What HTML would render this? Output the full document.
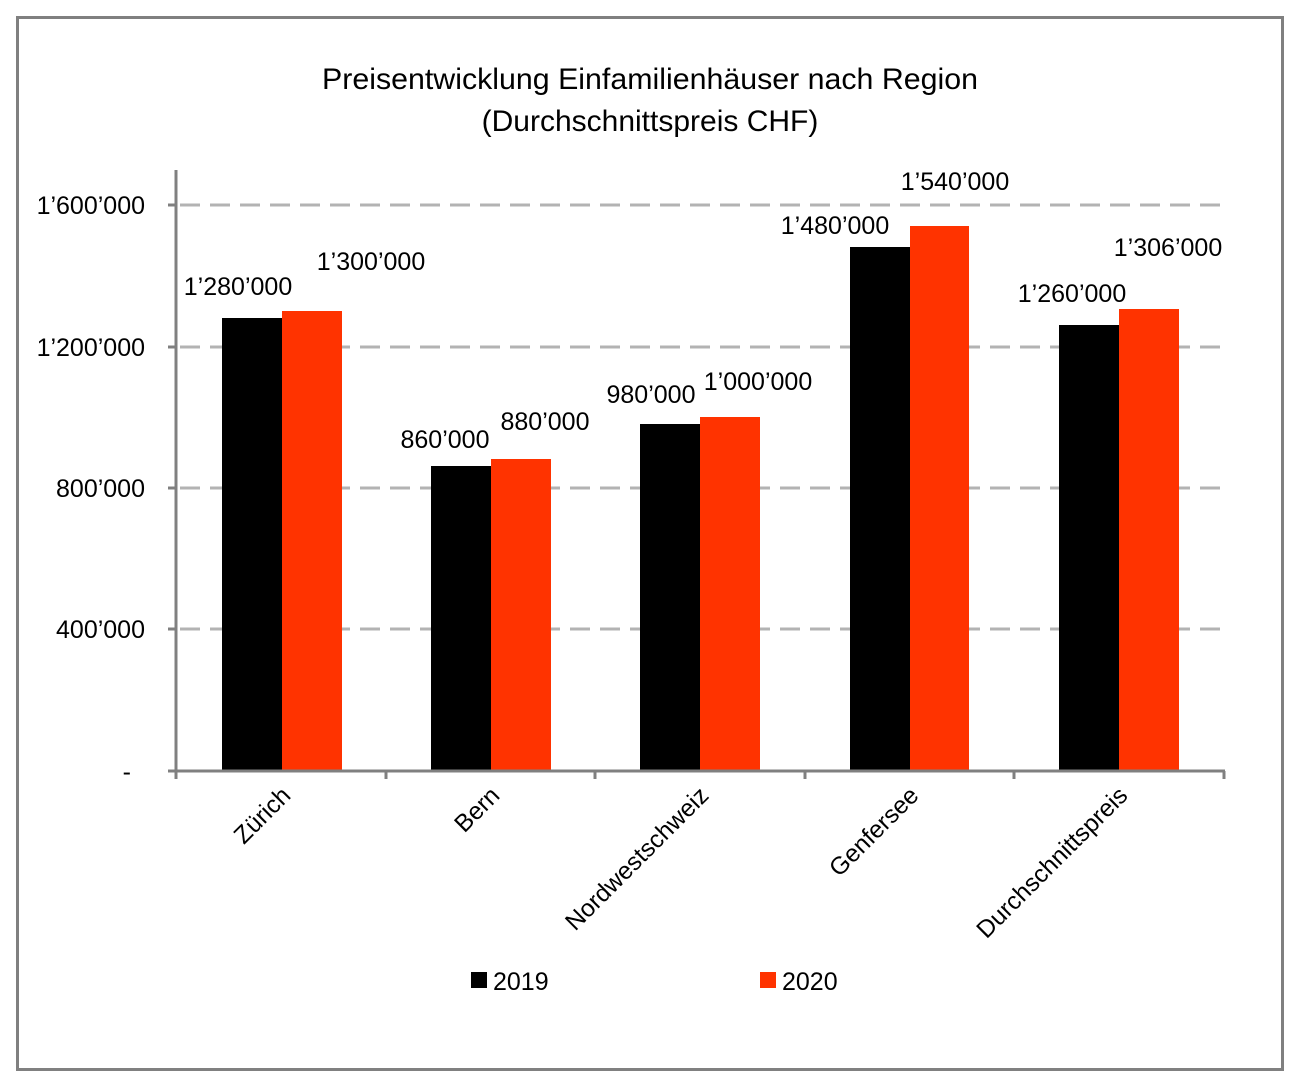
<!DOCTYPE html>
<html><head><meta charset="utf-8"><style>
html,body{margin:0;padding:0;background:#fff;}
svg{display:block;}
text{font-family:"Liberation Sans",sans-serif;fill:#000;}
</style></head><body>
<svg width="1294" height="1082" viewBox="0 0 1294 1082">
<rect x="17.5" y="17.5" width="1265" height="1052" fill="#fff" stroke="#808080" stroke-width="3"/>
<text x="650" y="89" font-size="30" text-anchor="middle" textLength="656" lengthAdjust="spacingAndGlyphs">Preisentwicklung Einfamilienhäuser nach Region</text>
<text x="650" y="131" font-size="30" text-anchor="middle">(Durchschnittspreis CHF)</text>
<g stroke="#b3b3b3" stroke-width="3" stroke-dasharray="20,10">
<line x1="180" y1="205" x2="1224" y2="205"/>
<line x1="180" y1="347" x2="1224" y2="347"/>
<line x1="180" y1="488" x2="1224" y2="488"/>
<line x1="180" y1="629" x2="1224" y2="629"/>
</g>
<g>
<rect x="222" y="318" width="60" height="452" fill="#000"/>
<rect x="282" y="311" width="60" height="459" fill="#ff3300"/>
<rect x="431" y="466" width="60" height="304" fill="#000"/>
<rect x="491" y="459" width="60" height="311" fill="#ff3300"/>
<rect x="640" y="424" width="60" height="346" fill="#000"/>
<rect x="700" y="417" width="60" height="353" fill="#ff3300"/>
<rect x="850" y="247" width="60" height="523" fill="#000"/>
<rect x="910" y="226" width="59" height="544" fill="#ff3300"/>
<rect x="1059" y="325" width="60" height="445" fill="#000"/>
<rect x="1119" y="309" width="60" height="461" fill="#ff3300"/>
</g>
<g stroke="#808080" stroke-width="3">
<line x1="176" y1="170" x2="176" y2="779"/>
<line x1="168" y1="771" x2="1225" y2="771"/>
<line x1="168" y1="205" x2="176" y2="205"/>
<line x1="168" y1="347" x2="176" y2="347"/>
<line x1="168" y1="488" x2="176" y2="488"/>
<line x1="168" y1="629" x2="176" y2="629"/>
<line x1="386" y1="771" x2="386" y2="779"/>
<line x1="595" y1="771" x2="595" y2="779"/>
<line x1="805" y1="771" x2="805" y2="779"/>
<line x1="1014" y1="771" x2="1014" y2="779"/>
<line x1="1224" y1="771" x2="1224" y2="779"/>
</g>
<g font-size="25" text-anchor="end">
<text x="145" y="214">1’600’000</text>
<text x="145" y="356">1’200’000</text>
<text x="145" y="497">800’000</text>
<text x="145" y="638">400’000</text>
<text x="131" y="780">-</text>
</g>
<g font-size="25" text-anchor="middle">
<text x="238" y="295">1’280’000</text>
<text x="371" y="270">1’300’000</text>
<text x="445" y="448">860’000</text>
<text x="545" y="430">880’000</text>
<text x="651" y="403">980’000</text>
<text x="758" y="390">1’000’000</text>
<text x="835" y="234">1’480’000</text>
<text x="955" y="190">1’540’000</text>
<text x="1072" y="302">1’260’000</text>
<text x="1168" y="256">1’306’000</text>
</g>
<g font-size="24.5" text-anchor="end">
<text transform="translate(292,797) rotate(-45)">Zürich</text>
<text transform="translate(501,797) rotate(-45)">Bern</text>
<text transform="translate(710,797) rotate(-45)">Nordwestschweiz</text>
<text transform="translate(920,797) rotate(-45)">Genfersee</text>
<text transform="translate(1129,797) rotate(-45)">Durchschnittspreis</text>
</g>
<rect x="471" y="972" width="16" height="16" fill="#000"/>
<text x="493" y="990" font-size="25">2019</text>
<rect x="760" y="972" width="16" height="16" fill="#ff3300"/>
<text x="782" y="990" font-size="25">2020</text>
</svg>
</body></html>
